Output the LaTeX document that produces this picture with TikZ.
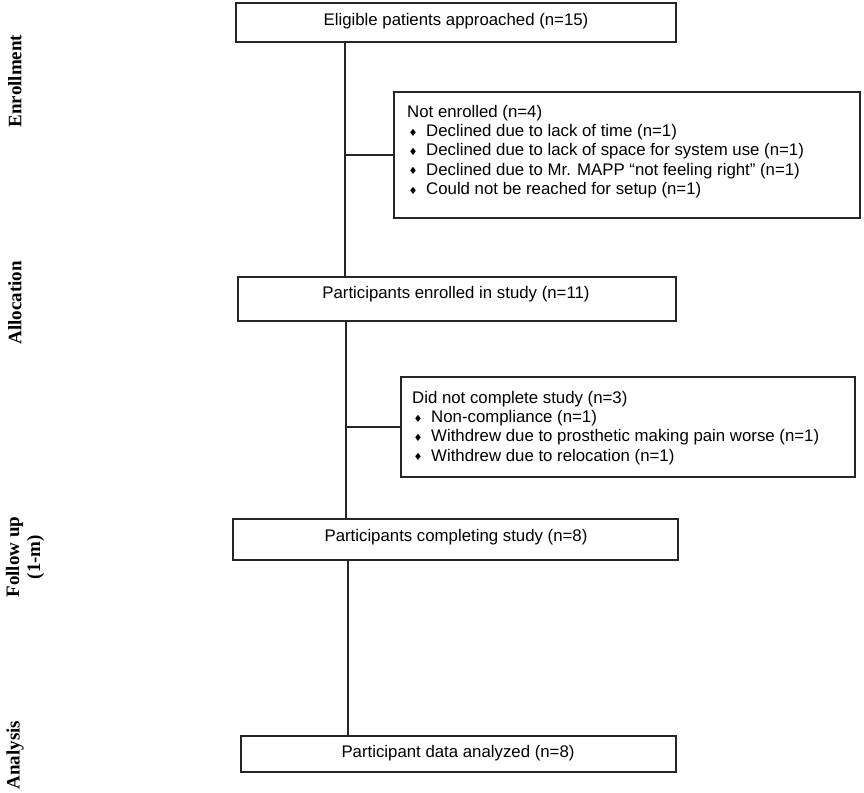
\documentclass[tikz,border=0pt]{standalone}
\usepackage{fontspec}
\setmainfont{Liberation Sans}
\newfontfamily\labfont{Liberation Serif}
\newfontfamily\symfont{DejaVu Sans}
\newcommand{\bl}{\makebox[19pt][l]{\hspace{1.5pt}\raisebox{0.5pt}{\symfont\fontsize{10}{10}\selectfont ♦}}}
\begin{document}
\begin{tikzpicture}[x=1pt,y=-1pt,
  box/.style={draw=black!85, line width=1.2pt, inner sep=0pt},
  maintxt/.style={font=\fontsize{16.8}{19.3}\selectfont, inner sep=0pt},
  sidetxt/.style={font=\fontsize{16.8}{19.3}\selectfont, align=left, inner sep=0pt, anchor=north west},
  stage/.style={font=\labfont\bfseries\fontsize{19}{21}\selectfont, rotate=90, align=center, inner sep=0pt},
  conn/.style={draw=black!85, line width=1.2pt}]
\useasboundingbox (0,0) rectangle (864,792);
\fill[white] (0,0) rectangle (864,792);

% main boxes
\node[box, minimum width=440, minimum height=39] (b1) at (456,22.5) {};
\node[maintxt] (b1t) at (456,21) {Eligible patients approached (n=15)};
\node[box, minimum width=438, minimum height=44] (b2) at (457,299) {};
\node[maintxt] (b2t) at (456,294) {Participants enrolled in study (n=11)};
\node[box, minimum width=445, minimum height=41] (b3) at (455.5,539.5) {};
\node[maintxt] (b3t) at (456,537) {Participants completing study (n=8)};
\node[box, minimum width=435, minimum height=36] (b4) at (458.5,754) {};
\node[maintxt] (b4t) at (458,753) {Participant data analyzed (n=8)};

% side boxes
\node[box, minimum width=466, minimum height=126] (nenr) at (627,155) {};
\node[sidetxt] (nenrt) at (407,105) {Not enrolled (n=4)\\
\bl Declined due to lack of time (n=1)\\
\bl Declined due to lack of space for system use (n=1)\\
\bl Declined due to Mr. MAPP “not feeling right” (n=1)\\
\bl Could not be reached for setup (n=1)};
\node[box, minimum width=454, minimum height=100] (ncomp) at (628,427) {};
\node[sidetxt] (ncompt) at (412,391) {Did not complete study (n=3)\\
\bl Non-compliance (n=1)\\
\bl Withdrew due to prosthetic making pain worse (n=1)\\
\bl Withdrew due to relocation (n=1)};

% connectors
\coordinate (x1) at (345,0);
\coordinate (x2) at (346,0);
\coordinate (x3) at (348,0);
\draw[conn] (x1 |- b1.south) -- (x1 |- b2.north);
\draw[conn] (x1 |- nenr.west) -- (nenr.west);
\draw[conn] (x2 |- b2.south) -- (x2 |- b3.north);
\draw[conn] (x2 |- ncomp.west) -- (ncomp.west);
\draw[conn] (x3 |- b3.south) -- (x3 |- b4.north);

% stage labels
\node[stage] (s1) at (15,81) {Enrollment};
\node[stage] (s2) at (15,303) {Allocation};
\node[stage] (s3) at (25,557) {Follow up\\(1-m)};
\node[stage] (s4) at (15,755) {Analysis};
\end{tikzpicture}
\end{document}
